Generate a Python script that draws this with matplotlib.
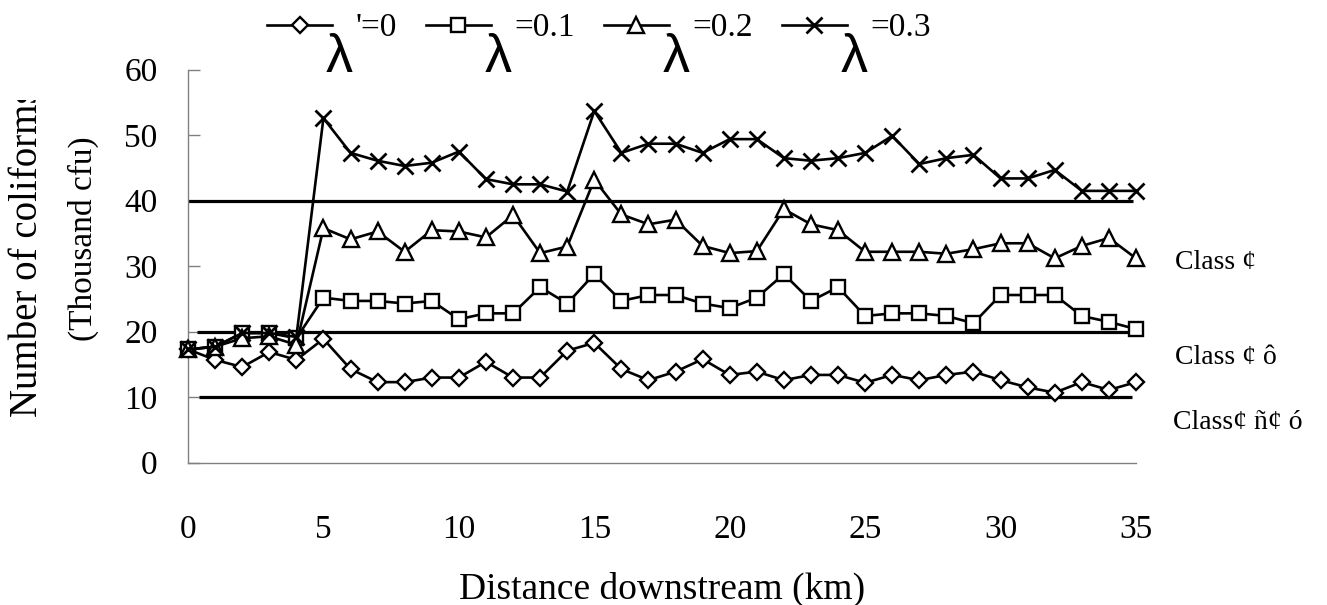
import matplotlib
matplotlib.use('Agg')
import matplotlib.pyplot as plt
from matplotlib.transforms import Bbox
from matplotlib.font_manager import FontProperties

# ---------------- data ----------------
distance = list(range(36))
lam_0 = [17.3, 15.7, 14.6, 16.9, 15.7, 18.9, 14.3, 12.3, 12.3, 13.0, 13.0, 15.4,
         13.0, 13.0, 17.1, 18.3, 14.3, 12.6, 13.9, 15.8, 13.4, 13.9, 12.6, 13.4,
         13.4, 12.2, 13.4, 12.6, 13.4, 13.9, 12.6, 11.5, 10.7, 12.3, 11.1, 12.3]
lam_01 = [17.3, 17.7, 19.8, 19.8, 19.0, 25.2, 24.7, 24.7, 24.3, 24.7, 21.9, 22.8,
          22.8, 26.8, 24.3, 28.8, 24.7, 25.6, 25.6, 24.3, 23.6, 25.2, 28.8, 24.7,
          26.8, 22.4, 22.8, 22.8, 22.4, 21.3, 25.6, 25.6, 25.6, 22.4, 21.5, 20.4]
lam_02 = [17.3, 17.7, 19.0, 19.3, 18.0, 35.8, 34.1, 35.3, 32.2, 35.5, 35.3, 34.4,
          37.8, 32.0, 33.0, 43.2, 37.9, 36.4, 37.1, 33.1, 32.0, 32.3, 38.7, 36.4,
          35.5, 32.2, 32.2, 32.2, 31.9, 32.6, 33.5, 33.5, 31.2, 33.1, 34.3, 31.2]
lam_03 = [17.3, 17.7, 19.8, 19.8, 19.2, 52.6, 47.3, 46.1, 45.3, 45.8, 47.5, 43.3,
          42.5, 42.5, 41.4, 53.7, 47.3, 48.7, 48.7, 47.3, 49.4, 49.4, 46.5, 46.1,
          46.5, 47.3, 49.9, 45.6, 46.5, 47.0, 43.4, 43.4, 44.7, 41.5, 41.5, 41.5]
legend_labels = ["'=0", "=0.1", "=0.2", "=0.3"]

class_bounds = [40, 20, 10]
class_line_start = [0.0, 0.35, 0.4]
class_line_end = [34.9, 35.25, 34.85]

class_labels = ["Class \u00a2", "Class \u00a2 \u00f4", "Class\u00a2 \u00f1\u00a2 \u00f3"]
class_label_y = [30.6, 16.0, 6.1]
class_label_x = [36.45, 36.45, 36.35]

x_ticks = [0, 5, 10, 15, 20, 25, 30, 35]
y_ticks = [0, 10, 20, 30, 40, 50, 60]

# ---------------- figure ----------------
W, H = 1327, 605
fig = plt.figure(figsize=(W / 100, H / 100), dpi=100)
serif = 'Liberation Serif'
plt.rcParams['font.family'] = [serif, 'DejaVu Sans']

x0, x1 = 188, 1136
y0, y1 = 462.7, 69.7
ax = fig.add_axes([x0 / W, 1 - y0 / H, (x1 - x0) / W, (y0 - y1) / H])
ax.set_xlim(0, 35)
ax.set_ylim(0, 60)

for s in ['top', 'right']:
    ax.spines[s].set_visible(False)
for s in ['left', 'bottom']:
    ax.spines[s].set_color('#808080')
    ax.spines[s].set_linewidth(1.0)

ax.set_xticks(x_ticks)
ax.set_yticks(y_ticks)
ax.tick_params(axis='x', length=0, pad=37, labelsize=24)
ax.tick_params(axis='y', direction='in', length=8.6, width=1.0, color='#808080',
               pad=22, labelsize=24)
for lab in ax.get_xticklabels() + ax.get_yticklabels():
    lab.set_fontfamily(serif)

# class boundary lines
for b, s, e in zip(class_bounds, class_line_start, class_line_end):
    ax.plot([s, e], [b, b], color='black', lw=2.3, solid_capstyle='butt',
            clip_on=False, zorder=2)

lw = 1.9
mew = 1.7
l0, = ax.plot(distance, lam_0, color='black', lw=lw, marker='D', ms=8.2,
              mfc='white', mec='black', mew=mew, clip_on=False, zorder=3)
l1, = ax.plot(distance, lam_01, color='black', lw=lw, marker='s', ms=10,
              mfc='white', mec='black', mew=mew, clip_on=False, zorder=4)
l2, = ax.plot(distance, lam_02, color='black', lw=lw, marker='^', ms=11,
              mfc='white', mec='black', mew=mew, clip_on=False, zorder=5)
l3, = ax.plot(distance, lam_03, color='black', lw=lw, marker='x', ms=12,
              mec='black', mew=mew + 0.3, clip_on=False, zorder=6)

# class labels on the right
for t, xx, yy in zip(class_labels, class_label_x, class_label_y):
    ax.text(xx, yy, t, fontsize=20, family=serif, ha='left', va='center',
            clip_on=False)

# axis labels
ax.set_xlabel('Distance downstream (km)', fontsize=27, family=serif)
ax.xaxis.set_label_coords(0.5, (y0 - 589) / (y0 - y1))
ax.xaxis.label.set_va('center')

clip = Bbox.from_extents(0, 0, W, H - 100)
t1 = fig.text(28 / W, 1 - 417 / H, 'Number of coliforms', rotation=90,
              ha='center', va='bottom', fontsize=28, family=serif)
t1.set_clip_box(clip)
t1.set_clip_on(True)
fig.text(83 / W, 1 - 239 / H, '(Thousand cfu)', rotation=90,
         ha='center', va='center', fontsize=24, family=serif)

# legend
leg = fig.legend([l0, l1, l2, l3], legend_labels, loc='upper left',
                 bbox_to_anchor=(267 / W, 1 - 13 / H), ncol=4, frameon=False,
                 handlelength=1.95, handletextpad=0.72, columnspacing=0.85,
                 borderpad=0, borderaxespad=0, numpoints=1,
                 prop=FontProperties(family=serif, size=24))

fig.canvas.draw()
renderer = fig.canvas.get_renderer()
for txt in leg.get_texts():
    bb = txt.get_window_extent(renderer)
    fig.text((bb.x0 - 3) / W, 1 - 72 / H, '\u03bb', ha='right', va='baseline',
             fontsize=39, family=['Liberation Sans', 'DejaVu Sans'])

fig.savefig('out.png', dpi=100)
